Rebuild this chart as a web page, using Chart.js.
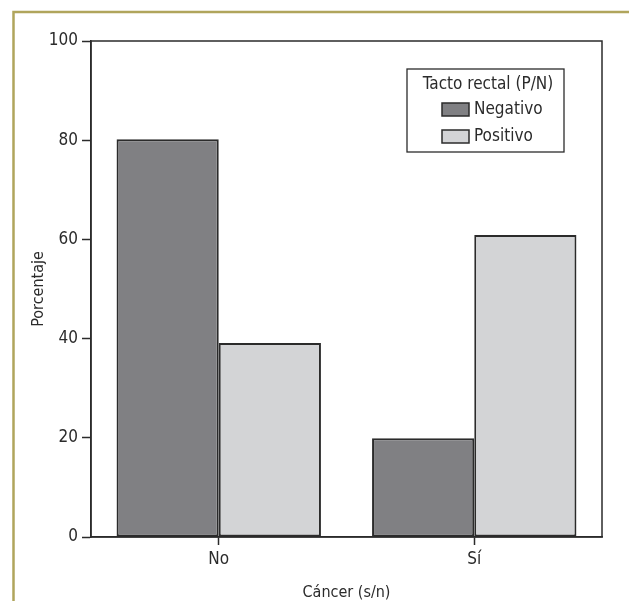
<!DOCTYPE html>
<html lang="es">
<head>
    <meta charset="UTF-8">
    <title>Tacto rectal por cáncer</title>
    <script src="https://cdn.jsdelivr.net/npm/chart.js"></script>
    <style>
        body { margin: 0; background: #fff; }
        #wrap { width: 629px; height: 601px; position: relative; }
    </style>
</head>
<body>
    <div id="wrap"><canvas id="chart"></canvas></div>
    <script>
        const categories = ['No', 'Sí'];
        const negativo = [80.2, 19.9];
        const positivo = [39.1, 60.9];
        const seriesLabels = ['Negativo', 'Positivo'];
        const legendTitle = 'Tacto rectal (P/N)';
        const yTicks = [0, 20, 40, 60, 80, 100];

        const FONT = "'Liberation Sans Narrow', 'Arial Narrow', 'DejaVu Sans Condensed', sans-serif";
        const INK = '#2b2b2b';

        // page frame, plot box and the legend inside the plot
        const extras = {
            id: 'extras',
            afterDraw(chart) {
                const ctx = chart.ctx;
                const a = chart.chartArea;
                ctx.save();
                ctx.strokeStyle = '#b0a55c';
                ctx.lineWidth = 2.5;
                ctx.beginPath();
                ctx.moveTo(13.5, 601);
                ctx.lineTo(13.5, 12);
                ctx.lineTo(629, 12);
                ctx.stroke();

                ctx.strokeStyle = INK;
                ctx.lineWidth = 1.5;
                ctx.strokeRect(a.left, a.top, a.right - a.left, a.bottom - a.top);

                // legend
                const lx = 407, ly = 69, lw = 157, lh = 83;
                ctx.fillStyle = '#fff';
                ctx.fillRect(lx, ly, lw, lh);
                ctx.lineWidth = 1.3;
                ctx.strokeRect(lx, ly, lw, lh);
                ctx.fillStyle = INK;
                ctx.font = '17px ' + FONT;
                ctx.textBaseline = 'middle';
                ctx.textAlign = 'center';
                ctx.fillText(legendTitle, 488, 85);
                ctx.textAlign = 'left';
                chart.data.datasets.forEach((ds, i) => {
                    const y = 103 + i * 27;
                    ctx.fillStyle = ds.backgroundColor;
                    ctx.fillRect(442, y, 27, 13);
                    ctx.strokeStyle = INK;
                    ctx.lineWidth = 1.5;
                    ctx.strokeRect(442, y, 27, 13);
                    ctx.fillStyle = INK;
                    ctx.fillText(ds.label, 474, y + 7);
                });
                ctx.restore();
            }
        };

        new Chart(document.getElementById('chart'), {
            type: 'bar',
            data: {
                labels: categories,
                datasets: [
                    {
                        label: seriesLabels[0],
                        data: negativo,
                        backgroundColor: '#808083',
                        borderColor: INK,
                        borderWidth: 2,
                        borderSkipped: false
                    },
                    {
                        label: seriesLabels[1],
                        data: positivo,
                        backgroundColor: '#d3d4d6',
                        borderColor: INK,
                        borderWidth: 2,
                        borderSkipped: false
                    }
                ]
            },
            options: {
                responsive: true,
                maintainAspectRatio: false,
                animation: false,
                layout: { padding: { top: 41, right: 27, left: 0, bottom: 0 } },
                datasets: { bar: { barPercentage: 1, categoryPercentage: 0.8 } },
                plugins: { legend: { display: false }, tooltip: { enabled: false } },
                scales: {
                    x: {
                        afterFit(scale) { scale.height = 64; },
                        grid: { offset: false, drawOnChartArea: false, drawTicks: true, tickLength: 8, tickColor: INK, tickWidth: 1.5 },
                        border: { color: INK, width: 1.5 },
                        ticks: { color: INK, padding: 4, font: { family: FONT, size: 17 } },
                        title: { display: true, text: 'Cáncer (s/n)', color: INK, padding: 0, font: { family: FONT, size: 16, lineHeight: 1 } }
                    },
                    y: {
                        min: 0,
                        max: 100,
                        afterFit(scale) { scale.width = 91; },
                        afterBuildTicks(scale) { scale.ticks = yTicks.map(v => ({ value: v })); },
                        grid: { drawOnChartArea: false, drawTicks: true, tickLength: 9, tickColor: INK, tickWidth: 1.5 },
                        border: { color: INK, width: 1.5 },
                        ticks: { color: INK, padding: 4, font: { family: FONT, size: 17 } },
                        title: { display: true, text: 'Porcentaje', color: INK, padding: { top: 29, bottom: 0 }, font: { family: FONT, size: 16, lineHeight: 1.2 } }
                    }
                }
            },
            plugins: [extras]
        });
    </script>
</body>
</html>
